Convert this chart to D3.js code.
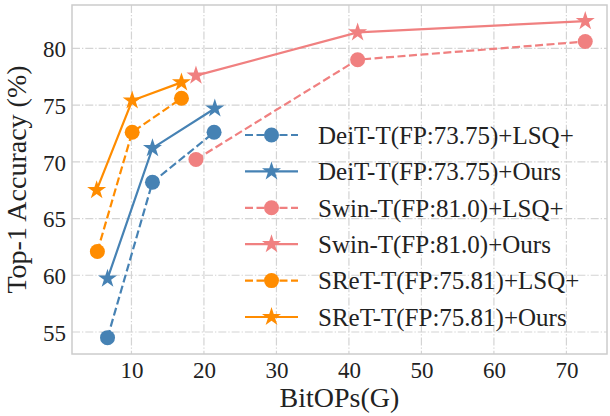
<!DOCTYPE html>
<html><head><meta charset="utf-8">
<script src="https://cdn.jsdelivr.net/npm/d3@7"></script>
<style>body{margin:0;background:#fff}svg{display:block}svg text{font-family:'Liberation Serif',serif !important;fill:#222}</style>
</head><body><svg id="c" width="610" height="416"></svg>
<script>
const seriesNames = ["DeiT-T(FP:73.75)+LSQ+","DeiT-T(FP:73.75)+Ours","Swin-T(FP:81.0)+LSQ+","Swin-T(FP:81.0)+Ours","SReT-T(FP:75.81)+LSQ+","SReT-T(FP:75.81)+Ours"];
const seriesColors = ["#4682b4","#4682b4","#f08080","#f08080","#ff8c00","#ff8c00"];
const seriesDashed = [true,false,true,false,true,false];
const seriesMarkers = ["circle","star","circle","star","circle","star"];
const deitLsqX = [6.7,12.9,21.4], deitLsqY = [54.5,68.2,72.6];
const deitOursX = [6.7,12.9,21.5], deitOursY = [59.7,71.2,74.7];
const swinLsqX = [18.9,41.2,72.6], swinLsqY = [70.2,79.0,80.6];
const swinOursX = [18.9,41.2,72.6], swinOursY = [77.6,81.4,82.4];
const sretLsqX = [5.3,10.1,16.9], sretLsqY = [62.1,72.6,75.6];
const sretOursX = [5.2,10.1,16.9], sretOursY = [67.5,75.4,77.0];
const xTicks = [10,20,30,40,50,60,70];
const yTicks = [55,60,65,70,75,80];
const xLabel = "BitOPs(G)", yLabel = "Top-1 Accuracy (%)";

const seriesX = [deitLsqX,deitOursX,swinLsqX,swinOursX,sretLsqX,sretOursX];
const seriesY = [deitLsqY,deitOursY,swinLsqY,swinOursY,sretLsqY,sretOursY];

const FONT = "'Liberation Serif', serif";
const L=72,R=607,T=5,B=354;
const x = d3.scaleLinear().domain([1.8,75.6]).range([L,R]);
const y = d3.scaleLinear().domain([53.06,83.82]).range([B,T]);
const svg = d3.select("#c").attr("font-family",FONT);

const gridColor="#d4d4d4";
const g = svg.append("g");
g.selectAll(".gx").data(xTicks).join("line").attr("x1",d=>x(d)).attr("x2",d=>x(d)).attr("y1",T).attr("y2",B)
 .attr("stroke",gridColor).attr("stroke-width",1.2).attr("stroke-dasharray","8,2,1.3,2");
g.selectAll(".gy").data(yTicks).join("line").attr("y1",d=>y(d)).attr("y2",d=>y(d)).attr("x1",L).attr("x2",R)
 .attr("stroke",gridColor).attr("stroke-width",1.2).attr("stroke-dasharray","8,2,1.3,2");
svg.append("rect").attr("x",L).attr("y",T).attr("width",R-L).attr("height",B-T).attr("fill","none").attr("stroke","#cccccc").attr("stroke-width",1.5);

const xAxis = d3.axisBottom(x).tickValues(xTicks).tickSize(0).tickPadding(0);
const ax = svg.append("g").attr("transform",`translate(0,${B})`).call(xAxis).attr("font-family",FONT).attr("font-size",23);
ax.select(".domain").remove();
ax.selectAll("text").attr("font-family",FONT).attr("font-size",23).attr("dy",null).attr("y",24).attr("fill","#222");
const yAxis = d3.axisLeft(y).tickValues(yTicks).tickSize(0).tickPadding(0);
const ay = svg.append("g").attr("transform",`translate(${L},0)`).call(yAxis).attr("font-family",FONT).attr("font-size",23);
ay.select(".domain").remove();
ay.selectAll("text").attr("font-family",FONT).attr("font-size",23).attr("x",-6).attr("dy","0.36em").attr("fill","#222");

svg.append("text").attr("x",(L+R)/2).attr("y",407).attr("text-anchor","middle").attr("font-size",28).text(xLabel);
svg.append("text").attr("transform",`translate(26,${(T+B)/2}) rotate(-90)`).attr("text-anchor","middle").attr("font-size",28).text(yLabel);

function starPath(r){
  const pts=[];
  for(let i=0;i<10;i++){const a=-Math.PI/2+i*Math.PI/5;const rr=i%2?r*0.382:r;pts.push([rr*Math.cos(a),rr*Math.sin(a)]);}
  return "M"+pts.map(p=>p.join(",")).join("L")+"Z";
}
function drawMarker(sel,type,color){
  if(type==="circle") sel.append("circle").attr("r",7.5).attr("fill",color);
  else sel.append("path").attr("d",starPath(10)).attr("fill",color);
}
const line = d3.line().x(d=>x(d[0])).y(d=>y(d[1]));
seriesNames.forEach((n,i)=>{
  const data = seriesX[i].map((v,j)=>[v,seriesY[i][j]]);
  svg.append("path").datum(data).attr("d",line).attr("fill","none").attr("stroke",seriesColors[i])
    .attr("stroke-width",2.2).attr("stroke-dasharray",seriesDashed[i]?"8,3.5":null);
  data.forEach(d=>{
    const m = svg.append("g").attr("transform",`translate(${x(d[0])},${y(d[1])})`);
    drawMarker(m,seriesMarkers[i],seriesColors[i]);
  });
});

const leg = svg.append("g");
seriesNames.forEach((n,i)=>{
  const cy = 135 + i*36.4;
  leg.append("line").attr("x1",245).attr("x2",298).attr("y1",cy).attr("y2",cy).attr("stroke",seriesColors[i])
    .attr("stroke-width",2.2).attr("stroke-dasharray",seriesDashed[i]?"8,3.5":null);
  const m = leg.append("g").attr("transform",`translate(271.5,${cy})`);
  drawMarker(m,seriesMarkers[i],seriesColors[i]);
  leg.append("text").attr("x",318).attr("y",cy).attr("dy","0.35em").attr("font-size",25).text(n);
});
</script></body></html>
